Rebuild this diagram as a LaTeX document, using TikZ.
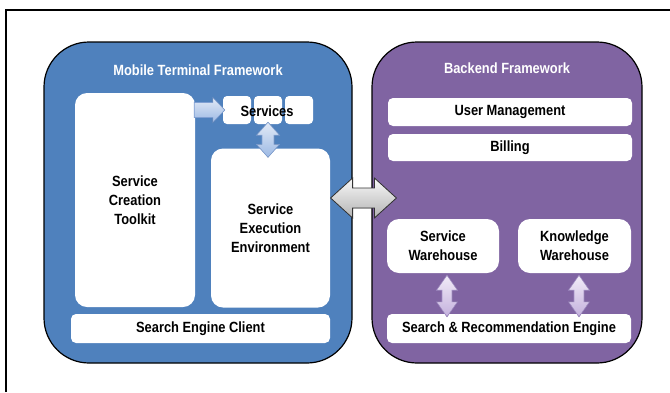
\documentclass[tikz,border=0pt]{standalone}
\usepackage{fontspec}
\setmainfont{Liberation Sans}[FakeStretch=0.87]
\usetikzlibrary{calc}

\definecolor{panelblue}{HTML}{4F81BD}
\definecolor{panelpurple}{HTML}{8064A2}
\definecolor{arrblueA}{HTML}{E2EAF6}
\definecolor{arrblueB}{HTML}{9DB9E4}
\definecolor{arrblueC}{HTML}{7F9FD2}
\definecolor{arrpurA}{HTML}{F2ECF8}
\definecolor{arrpurB}{HTML}{C3B0DC}
\definecolor{arrpurC}{HTML}{A28DC6}

\tikzset{
  labelfont/.style={font=\bfseries\fontsize{14.8}{19}\selectfont},
  panel/.style={draw=black, line width=1.2pt, rounded corners=45pt,
    minimum width=#1, inner sep=0pt},
  title/.style={text=white, labelfont},
  box/.style={fill=white, draw=none, rounded corners=12pt, inner sep=0pt,
    align=center, labelfont},
  bar/.style={box, rounded corners=5pt},
  bluearrow/.style={top color=arrblueA, bottom color=arrblueB, draw=arrblueC,
    line width=0.6pt, line join=miter},
  purplearrow/.style={top color=arrpurA, bottom color=arrpurB, draw=arrpurC,
    line width=0.6pt, line join=miter},
  grayarrow/.style={top color=gray!5, bottom color=gray!60, draw=black!80,
    line width=0.8pt, line join=miter},
}

% block arrow with heads at both ends:
% #1 style, #2 start, #3 end, #4 half shaft, #5 half head, #6 head length
\newcommand\twowayblock[6]{%
  \filldraw[#1]
    ($(#2)$)
    -- ($($(#2)!#6!(#3)$)!#5!90:(#3)$)
    -- ($($(#2)!#6!(#3)$)!#4!90:(#3)$)
    -- ($($(#3)!#6!(#2)$)!#4!-90:(#2)$)
    -- ($($(#3)!#6!(#2)$)!#5!-90:(#2)$)
    -- ($(#3)$)
    -- ($($(#3)!#6!(#2)$)!#5!90:(#2)$)
    -- ($($(#3)!#6!(#2)$)!#4!90:(#2)$)
    -- ($($(#2)!#6!(#3)$)!#4!-90:(#3)$)
    -- ($($(#2)!#6!(#3)$)!#5!-90:(#3)$)
    -- cycle;}
% block arrow with one head, at the end point
\newcommand\onewayblock[6]{%
  \filldraw[#1]
    ($(#2)!#4!90:(#3)$)
    -- ($($(#3)!#6!(#2)$)!#4!-90:(#2)$)
    -- ($($(#3)!#6!(#2)$)!#5!-90:(#2)$)
    -- ($(#3)$)
    -- ($($(#3)!#6!(#2)$)!#5!90:(#2)$)
    -- ($($(#3)!#6!(#2)$)!#4!90:(#2)$)
    -- ($(#2)!#4!-90:(#3)$)
    -- cycle;}

\begin{document}
\begin{tikzpicture}[x=1pt,y=-1pt]
\useasboundingbox (0,0) rectangle (670,392);

% outer frame (only its top and left edges lie on the page)
\coordinate (frameBL) at (6,392);
\coordinate (frameTL) at (6,10);
\coordinate (frameTR) at (670,10);
\draw[line width=1.2pt] (frameBL) -- (frameTL) -- (frameTR);

% the two frameworks
\node[panel=308pt, minimum height=321pt, fill=panelblue] (mobile) at (198,202.5) {};
\node[panel=270pt, minimum height=321pt, fill=panelpurple] (backend) at (507,202.5) {};
\node[title] (mobileT) at (198,70) {Mobile Terminal Framework};
\node[title] (backendT) at (507,68) {Backend Framework};

% mobile terminal side
\node[box, minimum width=120pt, minimum height=214pt] (sct) at (135,200)
  {Service\\Creation\\Toolkit};
\node[box, rounded corners=4pt, minimum width=28pt, minimum height=28pt] (svcA) at (237,110) {};
\node[box, rounded corners=4pt, minimum width=28pt, minimum height=28pt] (svcB) at (268,110) {};
\node[box, rounded corners=4pt, minimum width=28pt, minimum height=28pt] (svcC) at (299,110) {};
\node[box, minimum width=119pt, minimum height=159pt] (see) at (270.5,228)
  {Service\\Execution\\Environment};
\node[bar, minimum width=259pt, minimum height=29pt] (sec) at (200.5,328.5)
  {Search Engine Client};

% backend side
\node[bar, minimum width=244pt, minimum height=28pt] (um) at (510,112) {User Management};
\node[bar, minimum width=244pt, minimum height=27pt] (bill) at (510,147.5) {Billing};
\node[box, minimum width=112pt, minimum height=54pt] (sw) at (443,246) {Service\\Warehouse};
\node[box, minimum width=113pt, minimum height=54pt] (kw) at (574.5,246) {Knowledge\\Warehouse};
\node[bar, minimum width=244pt, minimum height=29pt] (sre) at (509,328.5)
  {Search \& Recommendation Engine};

% end points of the block arrows
\coordinate (toSvcA) at ($(sct.east |- svcA.west)+(-1,0)$);
\coordinate (toSvcB) at ($(svcA.west)+(2,0)$);
\coordinate (svcSeeA) at ($(svcB.south)+(0,-2)$);
\coordinate (svcSeeB) at ($(svcB.south |- see.north)+(0,9)$);
\coordinate (linkA) at ($(mobile.east)+(-22,-4.5)$);
\coordinate (linkB) at ($(backend.west)+(25,-4.5)$);
\coordinate (swSreA) at ($(sw.south)+(4,2)$);
\coordinate (swSreB) at ($(sw.south |- sre.north)+(4,3)$);
\coordinate (kwSreA) at ($(kw.south)+(4.5,2)$);
\coordinate (kwSreB) at ($(kw.south |- sre.north)+(4.5,3)$);

% block arrows
\onewayblock{bluearrow}{toSvcA}{toSvcB}{7.5pt}{12.5pt}{12pt}
\twowayblock{bluearrow}{svcSeeA}{svcSeeB}{6pt}{11.5pt}{13pt}
\twowayblock{grayarrow}{linkA}{linkB}{10pt}{20pt}{22pt}
\twowayblock{purplearrow}{swSreA}{swSreB}{5pt}{10.5pt}{15pt}
\twowayblock{purplearrow}{kwSreA}{kwSreB}{5pt}{10.5pt}{15pt}

% label across the service boxes
\node[labelfont, inner sep=0pt] (svcT) at (267,111) {Services};
\end{tikzpicture}
\end{document}
